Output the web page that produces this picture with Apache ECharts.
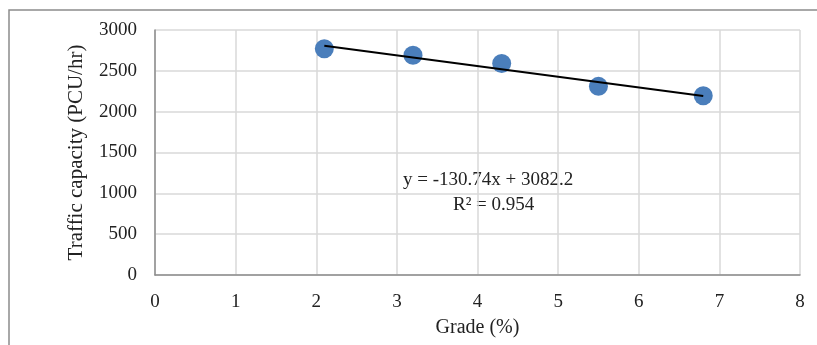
<!DOCTYPE html>
<html>
<head>
<meta charset="utf-8">
<script src="https://cdn.jsdelivr.net/npm/echarts@6/dist/echarts.min.js"></script>
<style>
    html, body { margin: 0; padding: 0; background: #fff; }
    #chart { width: 817px; height: 345px; }
</style>
</head>
<body>
<div id="chart"></div>
<script>
// grade (%) and measured capacity (PCU/hr)
const grade = [2.1, 3.2, 4.3, 5.5, 6.8];
const capacity = [2770, 2690, 2590, 2310, 2195];

// linear trendline from the reference
const slope = -130.74;
const intercept = 3082.2;
const rSquared = 0.954;

const xTicks = [0, 1, 2, 3, 4, 5, 6, 7, 8];
const yTicks = [0, 500, 1000, 1500, 2000, 2500, 3000];

const font = '"Liberation Serif", "Times New Roman", serif';

const myChart = echarts.init(document.getElementById('chart'));

const xMin = Math.min(...grade);
const xMax = Math.max(...grade);
const trend = [xMin, xMax].map(x => [x, slope * x + intercept]);

const option = {
    animation: false,
    grid: {
        left: 155,
        right: 17,
        top: 30,
        bottom: 70,
    },
    xAxis: {
        type: 'value',
        min: xTicks[0],
        max: xTicks[xTicks.length - 1],
        interval: 1,
        name: 'Grade (%)',
        nameLocation: 'middle',
        nameGap: 43,
        nameTextStyle: { color: '#222', fontFamily: font, fontSize: 20 },
        axisLine: { show: true, lineStyle: { color: '#8c8c8c', width: 1.5 } },
        axisTick: { show: false },
        axisLabel: { color: '#222', fontFamily: font, fontSize: 19, margin: 18 },
        splitLine: { show: true, lineStyle: { color: '#d9d9d9', width: 1.5 } },
    },
    yAxis: {
        type: 'value',
        min: yTicks[0],
        max: yTicks[yTicks.length - 1],
        interval: 500,
        name: 'Traffic capacity (PCU/hr)',
        nameLocation: 'middle',
        nameGap: 68,
        nameTextStyle: { color: '#222', fontFamily: font, fontSize: 21 },
        axisLine: { show: true, lineStyle: { color: '#8c8c8c', width: 1.5 } },
        axisTick: { show: false },
        axisLabel: {
            color: '#222',
            fontFamily: font,
            fontSize: 19,
            margin: 18,
            formatter: v => String(v),
        },
        splitLine: { show: true, lineStyle: { color: '#d9d9d9', width: 1.5 } },
    },
    graphic: [
        {
            type: 'rect',
            shape: { x: 9, y: 10, width: 820, height: 350 },
            style: { fill: 'none', stroke: '#8c8c8c', lineWidth: 1.5 },
            z: 0,
        },
        {
            type: 'text',
            left: 403,
            top: 171,
            style: {
                text: 'y = -130.74x + 3082.2',
                fill: '#222',
                font: '19px ' + font,
            },
        },
        {
            type: 'text',
            left: 453,
            top: 196,
            style: {
                text: 'R² = ' + rSquared,
                fill: '#222',
                font: '19px ' + font,
            },
        },
    ],
    series: [
        {
            type: 'scatter',
            data: grade.map((g, i) => [g, capacity[i]]),
            symbolSize: 19,
            itemStyle: { color: '#4a7ebb', opacity: 1 },
            z: 2,
        },
        {
            type: 'line',
            data: trend,
            symbol: 'none',
            lineStyle: { color: '#000', width: 2 },
            z: 3,
        },
    ],
};

myChart.setOption(option);
</script>
</body>
</html>
